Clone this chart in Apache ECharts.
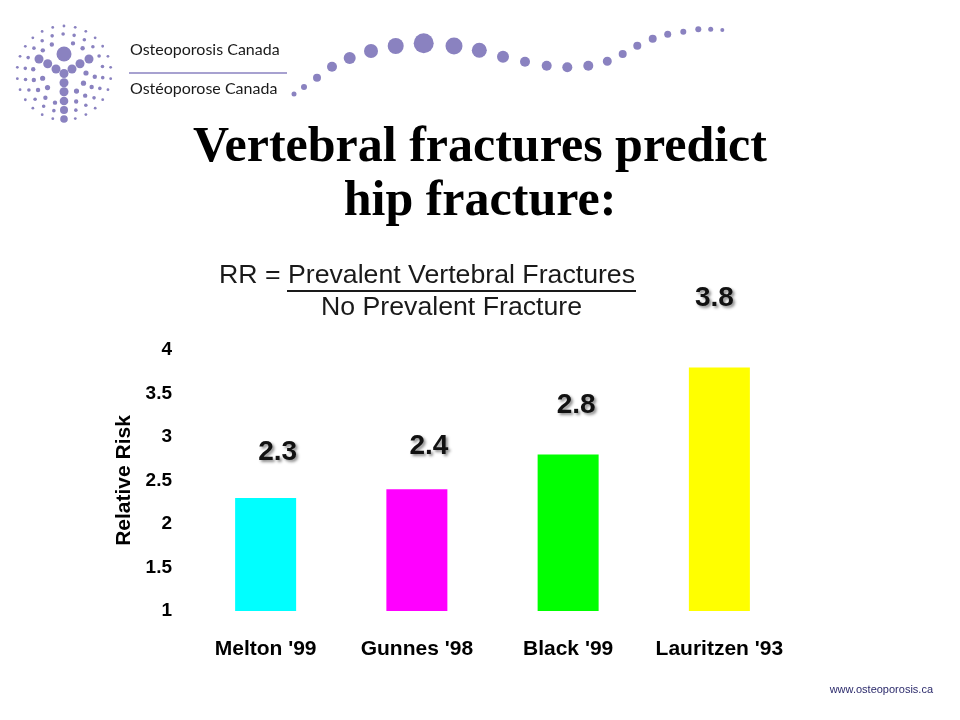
<!DOCTYPE html>
<html>
<head>
<meta charset="utf-8">
<script src="https://cdn.jsdelivr.net/npm/echarts@6/dist/echarts.min.js"></script>
<style>
html,body{margin:0;padding:0;background:#fff;}
#chart{width:960px;height:720px;}
</style>
</head>
<body>
<div id="chart"></div>
<script>
// ---- chart data ----
var categories = ["Melton '99", "Gunnes '98", "Black '99", "Lauritzen '93"];
var relativeRisk = [2.3, 2.4, 2.8, 3.8];
var yTicks = [1, 1.5, 2, 2.5, 3, 3.5, 4];

// ---- decoration (logo) ----
var PURPLE = '#8a82c0';
var waveDots = [
  [294,94,2.5],[304,87,3],[317,77.7,4],[332,66.7,5],[349.7,58,6],[371,51,7],
  [395.7,46,8],[423.7,43.3,10],[454,46,8.5],[479.3,50.3,7.5],[503,56.7,6],
  [525,61.7,5],[546.7,65.7,5],[567.3,67.3,5],[588.3,65.7,5],[607.3,61.3,4.5],
  [622.7,54,4],[637.3,45.7,4],[652.7,38.7,4],[667.7,34.3,3.5],[683.3,31.7,3],
  [698.3,29.3,3],[710.7,29.3,2.5],[722.3,30,2]
];
var emblemY = [
  [64,54,7.5],[39,59,4.5],[47.7,63.7,4.5],[56,69,4.5],[64,73.5,4.5],
  [89,59,4.5],[80,63.7,4.5],[72,69,4.5],
  [64,82.7,4.5],[64,91.7,4.5],[64,101,4.3],[64,110,4],[64,119,3.8]
];

var graphics = [];
waveDots.forEach(function(d){
  graphics.push({type:'circle', shape:{cx:d[0], cy:d[1], r:d[2]}, style:{fill:PURPLE}, silent:true});
});
emblemY.forEach(function(d){
  graphics.push({type:'circle', shape:{cx:d[0], cy:d[1], r:d[2]}, style:{fill:PURPLE}, silent:true});
});
var rings = [[47,26,1.4],[39,22,1.8],[31,18,2.2],[22,13,2.6]];
rings.forEach(function(rg){
  for (var k=0;k<rg[1];k++){
    var a = (k/rg[1])*Math.PI*2 + (rg[0]%2?0.12:0);
    var x = 64 + rg[0]*Math.cos(a), y = 73 + rg[0]*Math.sin(a);
    var near = emblemY.some(function(d){ return Math.hypot(d[0]-x,d[1]-y) < d[2]+rg[2]+2.5; });
    if (!near) graphics.push({type:'circle', shape:{cx:x, cy:y, r:rg[2]}, style:{fill:PURPLE}, silent:true});
  }
});

graphics.push(
  {type:'text', left:130, top:42, style:{text:'Osteoporosis Canada', font:'16px Lato', fill:'#1a1a1a'}},
  {type:'line', shape:{x1:129, y1:73, x2:287, y2:73}, style:{stroke:PURPLE, lineWidth:1.5}},
  {type:'text', left:130, top:81, style:{text:'Ostéoporose Canada', font:'16px Lato', fill:'#1a1a1a'}},
  // title
  {type:'text', left:'center', top:123, style:{text:'Vertebral fractures predict', font:'bold 50px "Liberation Serif"', fill:'#000', textAlign:'center'}},
  {type:'text', left:'center', top:177, style:{text:'hip fracture:', font:'bold 50px "Liberation Serif"', fill:'#000', textAlign:'center'}},
  // formula
  {type:'text', left:219, top:262, style:{text:'RR = Prevalent Vertebral Fractures', font:'26.7px "Liberation Sans"', fill:'#1a1a1a'}},
  {type:'line', shape:{x1:287, y1:291, x2:636, y2:291}, style:{stroke:'#1a1a1a', lineWidth:2}},
  {type:'text', left:321, top:294, style:{text:'No Prevalent Fracture', font:'26.7px "Liberation Sans"', fill:'#1a1a1a'}},
  // footer
  {type:'text', right:27, top:684, style:{text:'www.osteoporosis.ca', font:'11px "Liberation Sans"', fill:'#2b2a6b'}}
);

var barColors = ['#00ffff', '#ff00ff', '#00ff00', '#ffff00'];
var labelTweaks = [{d:32,x:12},{d:29,x:12},{d:35,x:8},{d:55,x:-5}];

var chart = echarts.init(document.getElementById('chart'));
chart.setOption({
  animation:false,
  backgroundColor:'#fff',
  grid:{left:190, right:165, top:350, bottom:109, containLabel:false},
  xAxis:{
    type:'category', data:categories,
    axisLine:{show:false}, axisTick:{show:false},
    axisLabel:{interval:0, color:'#000', fontFamily:'"Liberation Sans", Arial', fontWeight:'bold', fontSize:21, margin:28}
  },
  yAxis:{
    type:'value', min:1, max:4, interval:0.5,
    name:'Relative Risk', nameLocation:'middle', nameGap:54, nameRotate:90,
    nameTextStyle:{color:'#000', fontFamily:'"Liberation Sans", Arial', fontWeight:'bold', fontSize:21},
    axisLine:{show:false}, axisTick:{show:false}, splitLine:{show:false},
    axisLabel:{color:'#000', fontFamily:'"Liberation Sans", Arial', fontWeight:'bold', fontSize:19, margin:18,
      formatter:function(v){ return yTicks.indexOf(v)>=0 ? String(v) : ''; }}
  },
  series:[{
    type:'bar', barWidth:61,
    data: relativeRisk.map(function(v,i){
      return {value:v, itemStyle:{color:barColors[i]},
        label:{distance:labelTweaks[i].d, offset:[labelTweaks[i].x,0]}};
    }),
    label:{show:true, position:'top', color:'#111', fontFamily:'"Liberation Sans", Arial', fontWeight:'bold', fontSize:28,
      textShadowColor:'rgba(0,0,0,0.45)', textShadowBlur:3, textShadowOffsetX:2, textShadowOffsetY:2,
      formatter:function(p){ return p.value.toFixed(1); }}
  }],
  graphic: graphics
});
</script>
</body>
</html>
